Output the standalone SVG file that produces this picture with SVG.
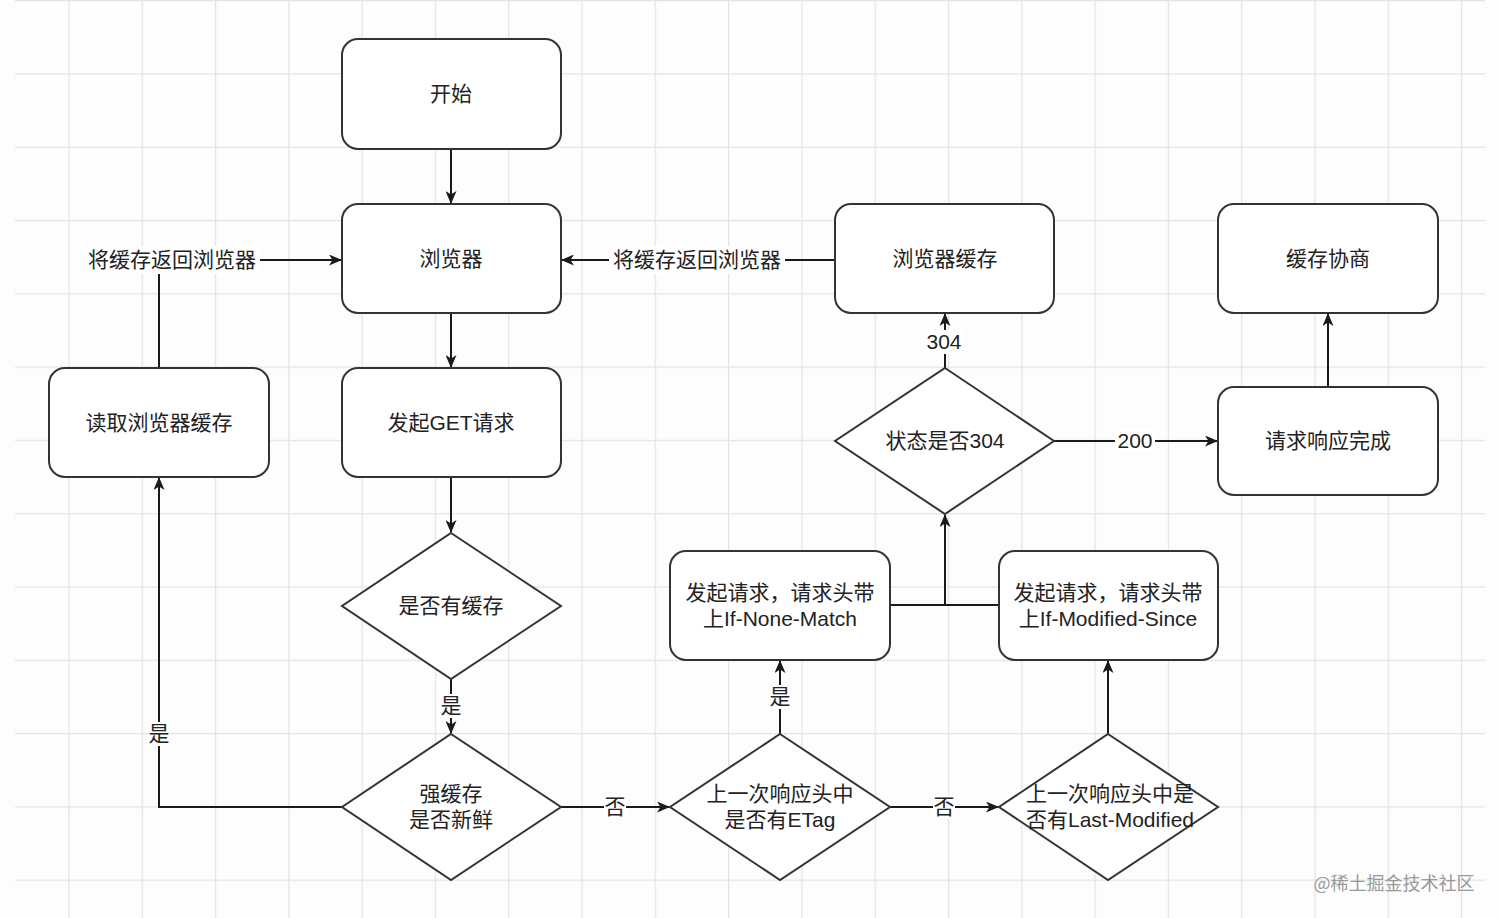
<svg xmlns="http://www.w3.org/2000/svg" width="1499" height="918" viewBox="0 0 1499 918">
<defs>
<pattern id="grid" x="-5" y="0" width="73.3" height="73.3" patternUnits="userSpaceOnUse">
<path d="M0,0.5 H73.3 M0.5,0 V73.3" fill="none" stroke="#e3e3e3" stroke-width="1.5"/>
</pattern>
<marker id="arr" viewBox="0 0 13 11" markerWidth="13" markerHeight="11" refX="12" refY="5.5" orient="auto" markerUnits="userSpaceOnUse">
<path d="M0,0 L13,5.5 L0,11 L3.5,5.5 z" fill="#1a1a1a"/>
</marker>
</defs>
<style>
.box{fill:#fff;stroke:#333;stroke-width:2}
.t{font-family:"Liberation Sans","Noto Sans CJK SC",sans-serif;font-size:21px;fill:#222;text-anchor:middle;dominant-baseline:central}
.e{fill:none;stroke:#1a1a1a;stroke-width:2}
.lb{fill:#fff}
</style>
<rect width="1499" height="918" fill="#fdfdfd"/>
<rect x="15" y="0" width="1470" height="918" fill="url(#grid)"/>

<g id="connectors">
<path class="e" d="M451,149 V203" marker-end="url(#arr)"/>
<path class="e" d="M451,313 V367" marker-end="url(#arr)"/>
<path class="e" d="M451,477 V532" marker-end="url(#arr)"/>
<path class="e" d="M451,679 V733" marker-end="url(#arr)"/>
<path class="e" d="M342,807 H159 V478" marker-end="url(#arr)"/>
<path class="e" d="M159,368 V260 H341" marker-end="url(#arr)"/>
<path class="e" d="M835,260 H562" marker-end="url(#arr)"/>
<path class="e" d="M561,807 H669" marker-end="url(#arr)"/>
<path class="e" d="M890,807 H998" marker-end="url(#arr)"/>
<path class="e" d="M780,734 V661" marker-end="url(#arr)"/>
<path class="e" d="M1108,734 V661" marker-end="url(#arr)"/>
<path class="e" d="M890,605 H945 V515" marker-end="url(#arr)"/>
<path class="e" d="M999,605 H945"/>
<path class="e" d="M945,368 V314" marker-end="url(#arr)"/>
<path class="e" d="M1054,441 H1217" marker-end="url(#arr)"/>
<path class="e" d="M1328,387 V314" marker-end="url(#arr)"/>
<g id="edge-labels">
<rect class="lb" x="440" y="694" width="22" height="24"/>
<text class="t" x="451" y="705">是</text>
<rect class="lb" x="148" y="722" width="22" height="24"/>
<text class="t" x="159" y="733">是</text>
<rect class="lb" x="84" y="246" width="176" height="28"/>
<text class="t" x="172" y="259">将缓存返回浏览器</text>
<rect class="lb" x="609" y="246" width="176" height="28"/>
<text class="t" x="697" y="259">将缓存返回浏览器</text>
<rect class="lb" x="604" y="795" width="22" height="24"/>
<text class="t" x="615" y="806">否</text>
<rect class="lb" x="933" y="795" width="22" height="24"/>
<text class="t" x="944" y="806">否</text>
<rect class="lb" x="769" y="685" width="22" height="24"/>
<text class="t" x="780" y="696">是</text>
<rect class="lb" x="924" y="330" width="40" height="24"/>
<text class="t" x="944" y="341">304</text>
<rect class="lb" x="1115" y="429" width="40" height="24"/>
<text class="t" x="1135" y="440">200</text>
</g>
</g>

<g id="start"><rect class="box" x="342" y="39" width="219" height="110" rx="16"/><text class="t" x="451" y="93">开始</text></g>
<g id="browser"><rect class="box" x="342" y="204" width="219" height="109" rx="16"/><text class="t" x="451" y="258">浏览器</text></g>
<g id="get"><rect class="box" x="342" y="368" width="219" height="109" rx="16"/><text class="t" x="451" y="422">发起GET请求</text></g>
<g id="read"><rect class="box" x="49" y="368" width="220" height="109" rx="16"/><text class="t" x="159" y="422">读取浏览器缓存</text></g>
<g id="hascache"><path class="box" d="M451,533 L561,606 L451,679 L342,606 Z"/><text class="t" x="451" y="605">是否有缓存</text></g>
<g id="fresh"><path class="box" d="M451,734 L561,807 L451,880 L342,807 Z"/><text class="t" x="451" y="793">强缓存</text><text class="t" x="451" y="819">是否新鲜</text></g>
<g id="etag"><path class="box" d="M780,734 L890,807 L780,880 L670,807 Z"/><text class="t" x="780" y="793">上一次响应头中</text><text class="t" x="780" y="819">是否有ETag</text></g>
<g id="lastmod"><path class="box" d="M1108,734 L1218,807 L1108,880 L999,807 Z"/><text class="t" x="1110" y="793">上一次响应头中是</text><text class="t" x="1110" y="819">否有Last-Modified</text></g>
<g id="inm"><rect class="box" x="670" y="551" width="220" height="109" rx="16"/><text class="t" x="780" y="592">发起请求，请求头带</text><text class="t" x="780" y="618">上If-None-Match</text></g>
<g id="ims"><rect class="box" x="999" y="551" width="219" height="109" rx="16"/><text class="t" x="1108" y="592">发起请求，请求头带</text><text class="t" x="1108" y="618">上If-Modified-Since</text></g>
<g id="is304"><path class="box" d="M945,368 L1054,441 L945,514 L835,441 Z"/><text class="t" x="945" y="440">状态是否304</text></g>
<g id="bcache"><rect class="box" x="835" y="204" width="219" height="109" rx="16"/><text class="t" x="945" y="258">浏览器缓存</text></g>
<g id="nego"><rect class="box" x="1218" y="204" width="220" height="109" rx="16"/><text class="t" x="1328" y="258">缓存协商</text></g>
<g id="done"><rect class="box" x="1218" y="387" width="220" height="108" rx="16"/><text class="t" x="1328" y="440">请求响应完成</text></g>

<text x="1394" y="882" style="font-family:'Noto Sans CJK SC','Liberation Sans',sans-serif;font-size:18px;fill:#999;text-anchor:middle;dominant-baseline:central">@稀土掘金技术社区</text>
</svg>
